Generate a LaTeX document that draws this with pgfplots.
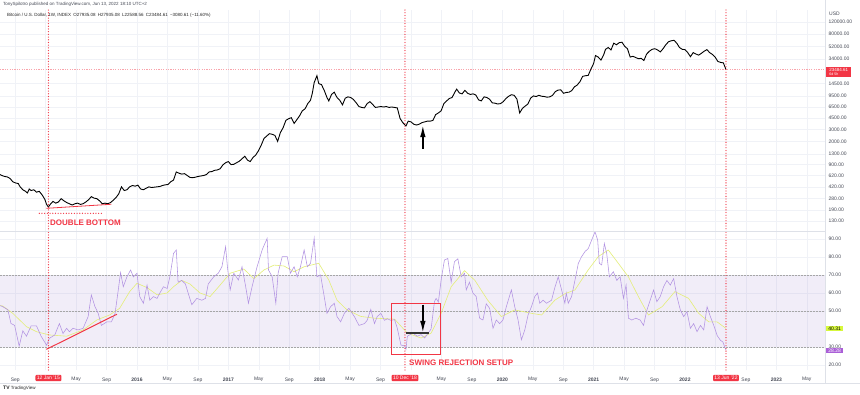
\documentclass[border=0pt]{standalone}
\usepackage{fontspec}
\setmainfont{Liberation Sans}
\usepackage{pgfplots}
\pgfplotsset{compat=1.18}
\usetikzlibrary{arrows.meta}
\definecolor{tvred}{RGB}{242,54,69}
\definecolor{rsicol}{RGB}{178,146,226}
\definecolor{macol}{RGB}{228,238,120}
\definecolor{gridc}{RGB}{240,242,247}
\definecolor{lbl}{RGB}{70,74,86}
\definecolor{bandc}{RGB}{126,87,194}
\definecolor{sepc}{RGB}{222,225,232}
\definecolor{lime}{RGB}{215,248,60}
\definecolor{purp}{RGB}{170,95,215}
\newcommand{\tl}{\fontsize{5}{6}\selectfont}
\tikzset{reddot/.style={tvred, line width=1.3pt, line cap=round, dash pattern=on 0pt off 2.7pt}}
\pgfplotsset{tvaxis/.style={scale only axis, width=825pt, xmin=2014.50, xmax=2023.533,
  axis line style={draw=none}, tick style={draw=none},
  grid=major, major grid style={draw=gridc, line width=0.4pt},
  yticklabel pos=right,
  yticklabel style={font=\tl, text=lbl, anchor=west, xshift=0pt},
  xticklabel style={font=\tl, text=lbl},
  /pgf/number format/assume math mode=true,
  xtick={2014.667,2015,2015.333,2015.667,2016,2016.333,2016.667,2017,2017.333,2017.667,2018,2018.333,2018.667,2019,2019.333,2019.667,2020,2020.333,2020.667,2021,2021.333,2021.667,2022,2022.333,2022.667,2023,2023.333},
  clip=true}}
\begin{document}
\begin{tikzpicture}
\fill[white] (0,0) rectangle (860pt,-395pt);
% ---------- price pane ----------
\begin{axis}[tvaxis, at={(0pt,-10pt)}, anchor=north west, height=221.5pt,
  ymode=log, ymin=90.76, ymax=181122,
  ytick={130,190,280,420,620,900,1300,2000,3000,4500,6500,9500,14500,34000,52000,80000,120000},
  yticklabels={130.00,190.00,280.00,420.00,620.00,900.00,1300.00,2000.00,3000.00,4500.00,6500.00,9500.00,14500.00,34000.00,52000.00,80000.00,120000.00},
  xticklabels={}]
\draw[tvred!45, line width=0.5pt, dash pattern=on 1.2pt off 1.2pt] (axis cs:2014.5,23484.61) -- (axis cs:2023.533,23484.61);
\addplot[black, line width=0.9pt] coordinates {(2014.50,640)(2014.52,620)(2014.55,600)(2014.58,590)(2014.61,560)(2014.64,500)(2014.67,480)(2014.70,470)(2014.72,420)(2014.75,380)(2014.78,360)(2014.80,340)(2014.82,390)(2014.84,370)(2014.87,380)(2014.90,350)(2014.93,360)(2014.96,320)(2014.99,275)(2015.01,230)(2015.03,210)(2015.05,230)(2015.08,255)(2015.11,240)(2015.14,250)(2015.17,280)(2015.20,260)(2015.23,245)(2015.26,235)(2015.29,225)(2015.32,235)(2015.35,240)(2015.38,230)(2015.41,235)(2015.44,250)(2015.47,270)(2015.50,300)(2015.53,285)(2015.56,280)(2015.59,260)(2015.62,235)(2015.65,240)(2015.68,235)(2015.71,245)(2015.74,265)(2015.77,290)(2015.80,330)(2015.83,420)(2015.86,370)(2015.89,380)(2015.92,420)(2015.95,440)(2015.98,430)(2016.01,445)(2016.04,390)(2016.07,380)(2016.10,400)(2016.13,420)(2016.16,410)(2016.19,415)(2016.22,420)(2016.25,425)(2016.28,440)(2016.31,450)(2016.34,455)(2016.37,500)(2016.40,530)(2016.43,700)(2016.46,670)(2016.49,650)(2016.52,660)(2016.55,620)(2016.58,580)(2016.61,575)(2016.64,585)(2016.67,600)(2016.70,610)(2016.73,620)(2016.76,640)(2016.79,700)(2016.82,710)(2016.85,740)(2016.88,750)(2016.91,780)(2016.94,890)(2016.97,960)(2017.00,1000)(2017.03,900)(2017.06,910)(2017.09,960)(2017.12,1010)(2017.15,1100)(2017.18,1200)(2017.21,1050)(2017.24,1000)(2017.27,1150)(2017.30,1250)(2017.33,1450)(2017.36,1750)(2017.39,2200)(2017.42,2400)(2017.45,2600)(2017.48,2550)(2017.51,2450)(2017.54,2000)(2017.57,2700)(2017.60,3200)(2017.63,4100)(2017.66,4350)(2017.69,4500)(2017.72,3700)(2017.75,4200)(2017.78,4800)(2017.81,5700)(2017.84,6100)(2017.87,7300)(2017.90,8200)(2017.92,10500)(2017.94,15000)(2017.97,19000)(2017.99,14500)(2018.02,14000)(2018.05,11500)(2018.08,9000)(2018.10,8000)(2018.13,10000)(2018.16,10800)(2018.19,9000)(2018.22,8200)(2018.25,7000)(2018.28,8800)(2018.31,9200)(2018.34,9000)(2018.37,8400)(2018.40,7500)(2018.43,6600)(2018.46,6400)(2018.49,6300)(2018.52,7300)(2018.55,7800)(2018.58,7100)(2018.61,6400)(2018.64,6500)(2018.67,6600)(2018.70,6500)(2018.73,6600)(2018.76,6400)(2018.79,6500)(2018.82,6400)(2018.85,6300)(2018.88,4400)(2018.91,3800)(2018.945,3400)(2018.97,4000)(2019.00,3900)(2019.03,3600)(2019.06,3500)(2019.09,3600)(2019.12,3800)(2019.15,3900)(2019.18,4000)(2019.21,4000)(2019.24,4100)(2019.27,5000)(2019.30,5300)(2019.33,5700)(2019.36,7300)(2019.39,8000)(2019.42,8700)(2019.45,9000)(2019.48,10800)(2019.50,12000)(2019.53,10500)(2019.56,10200)(2019.59,11500)(2019.62,10400)(2019.65,10000)(2019.68,10200)(2019.71,9800)(2019.74,8300)(2019.77,8000)(2019.80,9200)(2019.83,9000)(2019.86,8500)(2019.89,7500)(2019.92,7400)(2019.95,7200)(2019.98,7300)(2020.01,7800)(2020.04,8700)(2020.07,9400)(2020.10,9900)(2020.13,9700)(2020.16,8500)(2020.19,5300)(2020.22,6200)(2020.25,6700)(2020.28,7200)(2020.31,8800)(2020.34,9500)(2020.37,9300)(2020.40,9700)(2020.43,9400)(2020.46,9300)(2020.49,9100)(2020.52,9200)(2020.55,9700)(2020.58,11000)(2020.61,11600)(2020.64,11700)(2020.67,10400)(2020.70,10700)(2020.73,10800)(2020.76,11400)(2020.79,13000)(2020.82,13800)(2020.85,15500)(2020.88,18600)(2020.91,19000)(2020.94,19200)(2020.97,23800)(2021.00,29000)(2021.02,38000)(2021.05,36000)(2021.08,32500)(2021.11,39000)(2021.13,47000)(2021.16,50000)(2021.19,46000)(2021.22,58000)(2021.25,55000)(2021.28,59000)(2021.31,60000)(2021.34,52000)(2021.37,48000)(2021.40,36000)(2021.43,37000)(2021.46,35500)(2021.49,34000)(2021.52,34500)(2021.55,32000)(2021.58,40000)(2021.61,44000)(2021.64,47000)(2021.67,48000)(2021.70,46000)(2021.73,43000)(2021.76,48000)(2021.79,55000)(2021.82,61000)(2021.85,63000)(2021.88,64000)(2021.91,58000)(2021.94,50000)(2021.97,47000)(2022.00,46500)(2022.03,42000)(2022.06,36500)(2022.09,42000)(2022.12,40000)(2022.15,38500)(2022.18,41000)(2022.21,44000)(2022.24,46500)(2022.27,42000)(2022.30,39500)(2022.33,36000)(2022.36,31000)(2022.39,30000)(2022.42,29500)(2022.449,23485)};
\pgfplotsinvokeforeach{2015.03,2018.934,2022.449}{
  \draw[reddot] (axis cs:#1,90.76) -- (axis cs:#1,181122);}
\draw[tvred, line width=0.8pt] (axis cs:2015.008,201) -- (axis cs:2015.72,231);
\draw[reddot] (axis cs:2014.93,169) -- (axis cs:2015.61,169);
\draw[-{Latex[length=12pt,width=5.5pt]}, line width=1.6pt] (axis cs:2019.13,1550) -- (axis cs:2019.13,3500);
\end{axis}
% ---------- RSI pane ----------
\begin{axis}[tvaxis, at={(0pt,-231.5pt)}, anchor=north west, height=138.5pt,
  ymin=17.22, ymax=94.17,
  ytick={20,30,50,60,70,80,90},
  yticklabels={20.00,30.00,50.00,60.00,70.00,80.00,90.00},
  xticklabels={Sep,{},May,Sep,\textbf{2016},May,Sep,\textbf{2017},May,Sep,\textbf{2018},May,Sep,{},May,Sep,\textbf{2020},May,Sep,\textbf{2021},May,Sep,\textbf{2022},{},Sep,\textbf{2023},May},
  xticklabel style={yshift=-4pt}]
\fill[bandc, fill opacity=0.1] (axis cs:2014.5,30) rectangle (axis cs:2023.533,70);
\pgfplotsinvokeforeach{30,50,70}{
  \draw[gray!70, line width=0.4pt, dash pattern=on 1.5pt off 1.5pt] (axis cs:2014.5,#1) -- (axis cs:2023.533,#1);}
\addplot[macol, line width=0.6pt] coordinates {(2014.50,53)(2014.53,52.8)(2014.64,48.7)(2014.79,41.3)(2014.90,38.5)(2015.04,36.7)(2015.23,36)(2015.41,39.5)(2015.56,45)(2015.70,47.8)(2015.81,51.5)(2015.92,60.8)(2016.00,65.4)(2016.11,63)(2016.22,59)(2016.33,60)(2016.40,63.5)(2016.49,67)(2016.58,65)(2016.69,60)(2016.80,58)(2016.91,64.4)(2017.02,71)(2017.17,73.3)(2017.28,68)(2017.39,72.8)(2017.50,75.5)(2017.61,75)(2017.72,71.8)(2017.83,74.6)(2017.99,76.5)(2018.10,67.2)(2018.19,56)(2018.30,50.6)(2018.45,47)(2018.60,46)(2018.82,45.5)(2018.96,37.7)(2019.11,35)(2019.22,37.7)(2019.33,48.7)(2019.44,63.5)(2019.586,72.4)(2019.70,67)(2019.84,56)(2019.99,46.9)(2020.136,50.6)(2020.32,48.7)(2020.43,47.8)(2020.575,56)(2020.685,59.6)(2020.795,61.7)(2020.94,72.8)(2021.05,80.2)(2021.16,83.9)(2021.27,76.5)(2021.38,69)(2021.49,58)(2021.60,47.8)(2021.75,52.4)(2021.89,60.8)(2022.04,57)(2022.15,48.7)(2022.26,44)(2022.35,44)(2022.449,40.31)};
\addplot[rsicol, line width=0.55pt] coordinates {(2014.50,53)(2014.53,52.4)(2014.586,50.7)(2014.62,43.1)(2014.66,42)(2014.71,30.5)(2014.75,39)(2014.79,36)(2014.84,41.7)(2014.90,41.7)(2014.95,36)(2015.01,31)(2015.04,34.8)(2015.10,36.7)(2015.15,43)(2015.19,37.5)(2015.23,40.4)(2015.26,38.5)(2015.30,40.4)(2015.355,39.5)(2015.41,40.4)(2015.465,46.9)(2015.50,58.9)(2015.54,52.4)(2015.575,48.7)(2015.61,42)(2015.67,44)(2015.72,44)(2015.76,48.7)(2015.795,61.7)(2015.82,71.3)(2015.85,63.5)(2015.89,69)(2015.93,72.8)(2015.96,69)(2016.00,71)(2016.03,58)(2016.07,54.3)(2016.11,64.4)(2016.14,56)(2016.18,58)(2016.22,57)(2016.25,60)(2016.29,63.5)(2016.33,62.5)(2016.36,69)(2016.40,82)(2016.43,83.9)(2016.45,66)(2016.49,67)(2016.53,65)(2016.56,60)(2016.60,53.5)(2016.655,57)(2016.71,56)(2016.75,57)(2016.78,65)(2016.84,69)(2016.89,71)(2016.93,74.6)(2016.97,85.7)(2016.99,74.6)(2017.02,61.7)(2017.06,71)(2017.11,67.2)(2017.15,74.6)(2017.19,63.5)(2017.22,54.3)(2017.26,63.5)(2017.315,74.6)(2017.37,83.9)(2017.425,90.4)(2017.44,72.8)(2017.48,69)(2017.52,54.3)(2017.545,71)(2017.59,80.2)(2017.645,80.2)(2017.68,71)(2017.72,74.6)(2017.755,69)(2017.79,74.6)(2017.83,83.9)(2017.865,74.6)(2017.90,76.5)(2017.94,90.4)(2017.97,69)(2018.01,70)(2018.05,58)(2018.08,48.7)(2018.12,52.4)(2018.16,54.3)(2018.19,46.9)(2018.23,44)(2018.27,48.7)(2018.32,51.5)(2018.38,46.9)(2018.43,42)(2018.49,43)(2018.52,44.8)(2018.56,50.9)(2018.60,43)(2018.63,46.9)(2018.67,48.7)(2018.71,44.8)(2018.74,45.7)(2018.78,44.8)(2018.82,45.2)(2018.85,40.4)(2018.89,31.1)(2018.93,30.6)(2018.945,28.7)(2018.96,36)(2019.02,37.7)(2019.07,36)(2019.11,36.9)(2019.15,35)(2019.22,40)(2019.257,55.2)(2019.275,57)(2019.30,55)(2019.33,67.2)(2019.366,78.3)(2019.403,79.2)(2019.44,66)(2019.476,77.4)(2019.513,79)(2019.55,69)(2019.586,71)(2019.605,61.7)(2019.64,66)(2019.678,60)(2019.714,58)(2019.751,46)(2019.788,45)(2019.824,54)(2019.861,51.5)(2019.898,40.4)(2019.934,45)(2019.971,43)(2020.007,45)(2020.044,52.4)(2020.099,61.7)(2020.136,52.4)(2020.172,45)(2020.209,34)(2020.246,39.5)(2020.282,47.8)(2020.319,52.4)(2020.355,58)(2020.385,60)(2020.41,54.3)(2020.447,56)(2020.484,54.3)(2020.539,56)(2020.575,63)(2020.612,69)(2020.649,61.7)(2020.685,54.3)(2020.70,60)(2020.722,54.3)(2020.758,58)(2020.795,67)(2020.832,76.5)(2020.868,80.2)(2020.905,83)(2020.942,84.8)(2020.978,89.4)(2021.015,94)(2021.044,89.4)(2021.062,76.5)(2021.088,75.6)(2021.117,87.5)(2021.143,81.9)(2021.172,69)(2021.216,71.8)(2021.253,67)(2021.29,69)(2021.326,57)(2021.355,64.4)(2021.381,46)(2021.418,45)(2021.462,46)(2021.509,45)(2021.546,42)(2021.583,50.6)(2021.619,56)(2021.656,61.7)(2021.692,55.2)(2021.729,58)(2021.766,63.5)(2021.802,67)(2021.839,64.4)(2021.876,68)(2021.912,58)(2021.949,50.6)(2021.986,46.9)(2022.022,49.6)(2022.059,40.4)(2022.095,43)(2022.132,38.5)(2022.169,42)(2022.205,39.5)(2022.242,52.4)(2022.278,46.9)(2022.315,42)(2022.352,36.4)(2022.388,33.7)(2022.415,32.8)(2022.435,30)(2022.449,28.28)};
\pgfplotsinvokeforeach{2015.03,2018.934,2022.449}{
  \draw[reddot] (axis cs:#1,17.22) -- (axis cs:#1,94.17);}
\draw[tvred, line width=1pt] (axis cs:2015.008,28.7) -- (axis cs:2015.78,48.2);
\draw[tvred, line width=0.9pt] (axis cs:2018.79,54.4) rectangle (axis cs:2019.32,26.1);
\draw[black!80, line width=1.2pt] (axis cs:2018.945,37.8) -- (axis cs:2019.20,37.8);
\draw[-{Latex[length=12pt,width=5.5pt]}, line width=1.6pt] (axis cs:2019.13,53.5) -- (axis cs:2019.13,37.8);
\end{axis}
% ---------- separators and labels ----------
\draw[sepc, line width=0.5pt] (0,-231.5pt) -- (825.5pt,-231.5pt);
\draw[sepc, line width=0.5pt] (825.5pt,0) -- (825.5pt,-383pt);
\draw[sepc, line width=0.5pt] (0,-383pt) -- (860pt,-383pt);
\node[anchor=west, font=\fontsize{4.5}{5}\selectfont, text=lbl, inner sep=0] at (3pt,-4.5pt) {TonySpilotro published on TradingView.com, Jun 13, 2022 18:10 UTC+2};
\node[anchor=west, font=\fontsize{4.5}{5}\selectfont, text=black!85, inner sep=0] at (7pt,-15pt) {Bitcoin / U.S. Dollar, 1W, INDEX\enspace O27935.08\enspace H27935.08\enspace L22588.56\enspace C23484.61\enspace −3080.61 (−11.60\%)};
\node[anchor=west, font=\tl, text=lbl, inner sep=0] at (829pt,-14pt) {USD};
\node[anchor=west, fill=tvred, text=white, inner sep=1pt, font=\fontsize{4.5}{4.8}\selectfont, align=left, minimum width=25pt] at (826pt,-72pt) {23484.61\\[-0.3pt]{\fontsize{3.6}{4}\selectfont 6d 5h}};
\node[anchor=west, fill=lime, text=black, inner sep=0.8pt, font=\tl, minimum width=17pt] at (826pt,-328.7pt) {40.31};
\node[anchor=west, fill=purp, text=white, inner sep=0.8pt, font=\tl, minimum width=17pt] at (826pt,-350.7pt) {28.28};
\node[fill=tvred, text=white, inner sep=1.4pt, rounded corners=1pt, font=\tl] at (48.4pt,-378pt) {12 Jan '15};
\node[fill=tvred, text=white, inner sep=1.4pt, rounded corners=1pt, font=\tl] at (405pt,-378pt) {10 Dec '18};
\node[fill=tvred, text=white, inner sep=1.4pt, rounded corners=1pt, font=\tl] at (726pt,-378pt) {13 Jun '22};
\node[anchor=west, text=tvred, font=\fontsize{8}{9}\selectfont\bfseries, inner sep=0] at (50pt,-222.7pt) {DOUBLE BOTTOM};
\node[anchor=west, text=tvred, font=\fontsize{8}{9}\selectfont\bfseries, inner sep=0] at (409pt,-363pt) {SWING REJECTION SETUP};
\node[anchor=west, font=\fontsize{4.5}{5}\selectfont, text=black!85, inner sep=0] at (3pt,-388.5pt) {\textbf{\fontsize{5}{5}\selectfont TV} TradingView};
\pgfresetboundingbox
\path (0,0) rectangle (860pt,-395pt);
\end{tikzpicture}
\end{document}
